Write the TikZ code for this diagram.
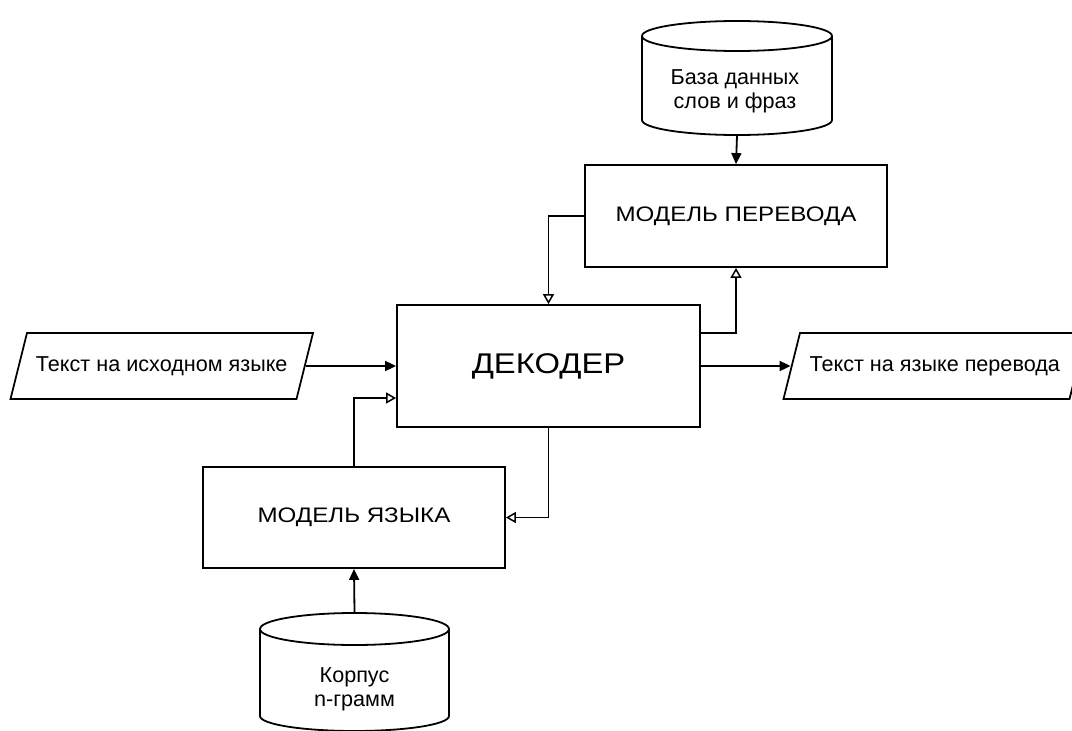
\documentclass[tikz,border=0pt]{standalone}
\usepackage{fontspec}
\setmainfont{Liberation Sans}
\newfontfamily\widefont[FakeStretch=1.15]{Liberation Sans}
\usetikzlibrary{arrows.meta,calc}
\begin{document}
\begin{tikzpicture}[x=1pt,y=-1pt,
  line width=1.8pt,
  box/.style={draw,rectangle,minimum width=302pt,minimum height=101pt,inner sep=0pt,font=\widefont\fontsize{21}{25}\selectfont},
  ghost/.style={rectangle,inner sep=0pt,align=center,font=\fontsize{21.6}{24}\selectfont},
  filled/.style={-{Triangle[length=11pt,width=10pt]}},
  hollow/.style={-{Triangle[open,length=10pt,width=11pt,line width=1.5pt]}}
]
\useasboundingbox (0,0) rectangle (1072,731);
% nodes
\node[ghost,minimum width=190pt,minimum height=114pt] (db) at (737,78) {};
\node[ghost] (dbt) at (735,91) {База данных\\слов и фраз};
\node[box,minimum height=102pt] (mt) at (736,216) {МОДЕЛЬ ПЕРЕВОДА};
\node[box,minimum width=303pt,minimum height=122pt,font=\widefont\fontsize{28.5}{34}\selectfont] (dec) at (548.5,366) {ДЕКОДЕР};
\node[ghost,minimum width=286.5pt,minimum height=66pt] (src) at (161.75,366) {Текст на исходном языке};
\node[ghost,minimum width=286.5pt,minimum height=66pt] (dst) at (934.75,366) {Текст на языке перевода};
\node[box] (lm) at (354,517.5) {МОДЕЛЬ ЯЗЫКА};
\node[ghost,minimum width=189pt,minimum height=118pt] (cor) at (354.5,672) {};
\node[ghost] (cort) at (354.5,689) {Корпус\\n-грамм};
% cylinders
\draw (642,36) -- (642,120) arc[start angle=180,end angle=360,x radius=95,y radius=-15] -- (832,36);
\draw (737,36) ellipse[x radius=95,y radius=15];
\draw (260,629) -- (260,716) arc[start angle=180,end angle=360,x radius=94.5,y radius=-15] -- (449,629);
\draw (354.5,629) ellipse[x radius=94.5,y radius=16];
% parallelograms
\draw (27,333) -- (313,333) -- (296.5,399) -- (10.5,399) -- cycle;
\draw (800,333) -- (1086,333) -- (1069.5,399) -- (783.5,399) -- cycle;
% connectors
\draw[filled] (db.south) -- (mt.north);
\draw[hollow] (mt.west) -| (dec.north);
\draw[hollow] ([yshift=33pt]dec.east) -| (mt.south);
\draw[filled] (src.east) -- (dec.west);
\draw[filled] (dec.east) -- (dst.west);
\draw[hollow] (lm.north) |- ([yshift=-32pt]dec.west);
\draw[hollow] (dec.south) |- (lm.east);
\draw[filled] (cor.north) -- (lm.south);
\end{tikzpicture}
\end{document}
